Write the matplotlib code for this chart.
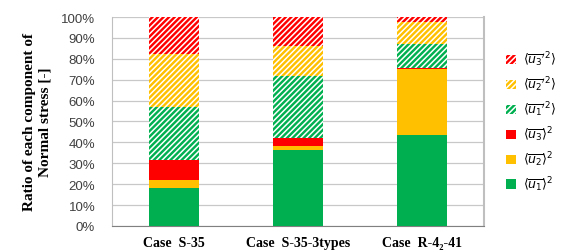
import matplotlib.pyplot as plt
import numpy as np

cases = ['Case  S-35', 'Case  S-35-3types', 'Case  R-4\u2082-41']
# stacked components in percent (bottom to top)
u1 = [18.2, 36.5, 43.5]
u2 = [3.8, 1.9, 31.6]
u3 = [9.4, 3.6, 0.3]
u1p = [25.4, 29.9, 11.5]
u2p = [25.5, 14.4, 10.6]
u3p = [17.7, 13.7, 2.5]

labels = [r'$\langle\overline{u_1}\rangle^{2}$', r'$\langle\overline{u_2}\rangle^{2}$',
          r'$\langle\overline{u_3}\rangle^{2}$', r'$\langle\overline{u_1}^{\prime 2}\rangle$',
          r'$\langle\overline{u_2}^{\prime 2}\rangle$', r'$\langle\overline{u_3}^{\prime 2}\rangle$']
series = [u1, u2, u3, u1p, u2p, u3p]
colors = ['#00B050', '#FFC000', '#FF0000', '#00B050', '#FFC000', '#FF0000']
hatched = [False, False, False, True, True, True]

plt.rcParams['hatch.linewidth'] = 1.1
fig = plt.figure(figsize=(5.68, 2.51), dpi=100)
ax = fig.add_axes([0.197, 0.096, 0.655, 0.832])

x = np.arange(len(cases))
bottom = np.zeros(len(cases))
handles = []
for vals, c, h, lab in zip(series, colors, hatched, labels):
    b = ax.bar(x, vals, 0.4, bottom=bottom, color=c, label=lab, zorder=3,
               hatch='//////' if h else None, edgecolor='white' if h else c, linewidth=0)
    handles.append(b)
    bottom += np.array(vals)

ax.set_xlim(-0.5, 2.5)
ax.set_ylim(0, 100)
ax.set_yticks(np.arange(0, 101, 10))
ax.set_yticklabels([f'{v}%' for v in range(0, 101, 10)], fontsize=9.5,
                   family='Liberation Sans', color='#404040')
ax.set_xticks(x)
ax.set_xticklabels(cases, fontsize=10, family=['Liberation Serif', 'DejaVu Serif'],
                   fontweight='bold')
ax.tick_params(axis='y', length=0, pad=12)
ax.tick_params(axis='x', length=0, pad=7)
ax.grid(axis='y', color='#C8C8C8', lw=0.9, zorder=0)
for s in ['left', 'right', 'top']:
    ax.spines[s].set_color('#BFBFBF')
ax.spines['top'].set_visible(False)
ax.spines['right'].set_linewidth(1.5)
ax.spines['bottom'].set_color('#808080')

ax.set_ylabel('Ratio of each component of\nNormal stress [-]', family='Liberation Serif',
              fontweight='bold', fontsize=11, labelpad=7)

leg = ax.legend(handles[::-1], labels[::-1], loc='center left', bbox_to_anchor=(1.03, 0.5),
                frameon=False, fontsize=9, handlelength=0.75, handleheight=0.75,
                labelspacing=0.55, handletextpad=0.6)

plt.savefig('out.png', dpi=100)
